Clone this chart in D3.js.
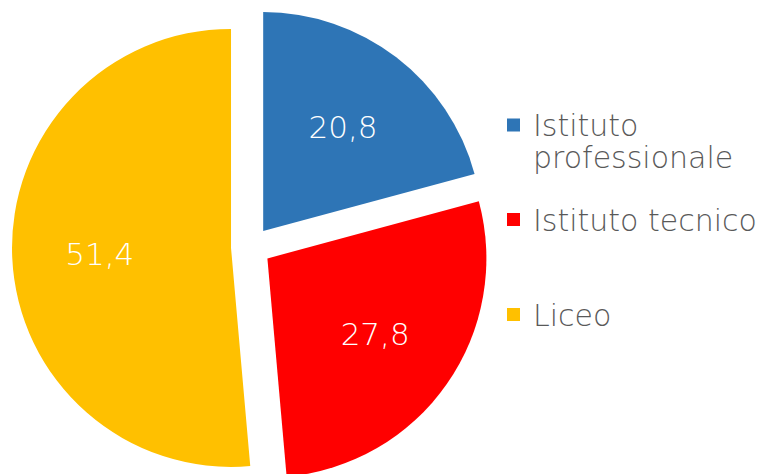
<!DOCTYPE html>
<html>
<head>
<meta charset="utf-8">
<script src="https://cdn.jsdelivr.net/npm/d3@7"></script>
<style>
  html, body { margin: 0; padding: 0; background: #ffffff; }
  svg { display: block; }
  .value { fill: #ffffff; font-family: "DejaVu Sans", sans-serif; font-weight: 200; font-size: 31px; }
  .legend text { fill: #595959; font-family: "DejaVu Sans", sans-serif; font-weight: 200; font-size: 30px; }
</style>
</head>
<body>
<div id="chart"></div>
<script>
const categories = ["Istituto professionale", "Istituto tecnico", "Liceo"];
const legendLines = [["Istituto", "professionale"], ["Istituto tecnico"], ["Liceo"]];
const values = [20.8, 27.8, 51.4];
const colors = ["#2E75B6", "#FF0000", "#FFC000"];

const width = 762, height = 474;
const cx = 251, cy = 247;
const radius = 219;
const explode = 20;

const fmt = v => d3.format(".1f")(v).replace(".", ",");

const svg = d3.select("#chart")
  .append("svg")
  .attr("width", width)
  .attr("height", height);

const pie = d3.pie().sort(null).value(d => d.value);
const arc = d3.arc().innerRadius(0).outerRadius(radius);
const labelArc = d3.arc().innerRadius(radius * 0.6).outerRadius(radius * 0.6);

const data = categories.map((c, i) => ({ category: c, value: values[i], color: colors[i] }));

const slices = svg.append("g")
  .attr("transform", `translate(${cx}, ${cy})`)
  .selectAll("g.slice")
  .data(pie(data))
  .enter()
  .append("g")
  .attr("class", "slice")
  .attr("transform", d => {
    // push each slice out along its bisector
    const a = (d.startAngle + d.endAngle) / 2;
    return `translate(${Math.sin(a) * explode}, ${-Math.cos(a) * explode})`;
  });

slices.append("path")
  .attr("d", arc)
  .attr("fill", d => d.data.color);

slices.append("text")
  .attr("class", "value")
  .attr("transform", d => `translate(${labelArc.centroid(d)})`)
  .attr("text-anchor", "middle")
  .attr("dy", "0.36em")
  .text(d => fmt(d.data.value));

// Legend
const legendX = 507, legendTops = [125, 219.5, 314.5];
const sq = 13, lineH = 32;

const legend = svg.append("g")
  .attr("class", "legend")
  .selectAll("g")
  .data(data)
  .enter()
  .append("g")
  .attr("transform", (d, i) => `translate(${legendX}, ${legendTops[i]})`);

legend.append("rect")
  .attr("x", 0)
  .attr("y", -sq / 2)
  .attr("width", sq)
  .attr("height", sq)
  .attr("fill", d => d.color);

legend.append("text")
  .attr("x", 26)
  .attr("y", 11)
  .selectAll("tspan")
  .data((d, i) => legendLines[i])
  .enter()
  .append("tspan")
  .attr("x", 26)
  .attr("dy", (d, i) => i === 0 ? 0 : lineH)
  .text(d => d);
</script>
</body>
</html>
